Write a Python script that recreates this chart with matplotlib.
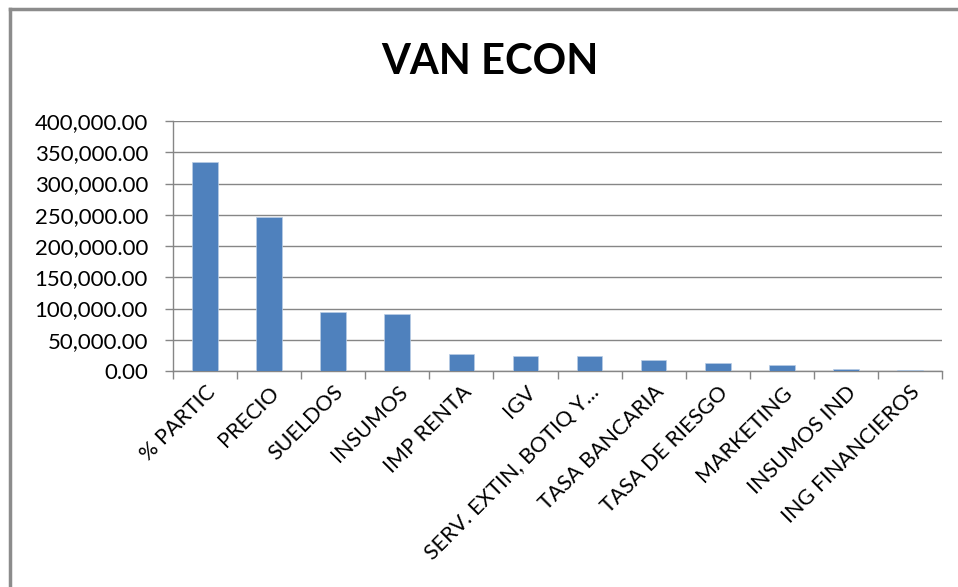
import matplotlib.pyplot as plt
from matplotlib.ticker import FuncFormatter, MultipleLocator
from matplotlib.lines import Line2D

categorias = ["% PARTIC", "PRECIO", "SUELDOS", "INSUMOS", "IMP RENTA", "IGV",
              "SERV. EXTIN, BOTIQ Y...", "TASA BANCARIA", "TASA DE RIESGO",
              "MARKETING", "INSUMOS IND", "ING FINANCIEROS"]
valores = [335000, 247000, 94600, 90800, 26700, 24600,
           24700, 17900, 12100, 10000, 3700, 2400]

plt.rcParams['font.family'] = ['Lato', 'DejaVu Sans']

fig = plt.figure(figsize=(9.58, 5.87), dpi=100)
ax = fig.add_axes([173 / 958, 1 - 371 / 587, 769 / 958, 250 / 587])

gris = '#868686'
x = range(len(categorias))
ax.bar(x, valores, width=0.4, color='#4F81BD', edgecolor='#B9CDE5', linewidth=0.5, zorder=3)

ax.set_xlim(-0.5, len(categorias) - 0.5)
ax.set_ylim(0, 400000)
ax.yaxis.set_major_locator(MultipleLocator(50000))
ax.yaxis.set_major_formatter(FuncFormatter(lambda v, p: f"{v:,.2f}"))
ax.grid(axis='y', color=gris, linewidth=1.0, zorder=0)

# tick marks between categories, labels at the category centres
ax.set_xticks([i - 0.5 for i in range(len(categorias) + 1)])
ax.set_xticklabels([])
ax.set_xticks(list(x), minor=True)
ax.set_xticklabels(categorias, minor=True, rotation=45, ha='right',
                   rotation_mode='anchor', fontsize=15.5, color='black')
ax.tick_params(axis='x', which='minor', length=0, pad=8)
ax.tick_params(axis='x', which='major', length=6, color=gris, width=1)
ax.tick_params(axis='y', length=6, color=gris, width=1, labelsize=16, pad=12)

for s in ['top', 'right']:
    ax.spines[s].set_visible(False)
for s in ['left', 'bottom']:
    ax.spines[s].set_color(gris)
    ax.spines[s].set_linewidth(1.0)

fig.text(490 / 958, 1 - 62 / 587, "VAN ECON", ha='center', va='center',
         fontsize=30, fontweight='bold')

# chart frame
fig.add_artist(Line2D([10 / 958, 10 / 958], [0, 1 - 9 / 587], color='#8c8c8c', linewidth=2.5,
                      transform=fig.transFigure))
fig.add_artist(Line2D([10 / 958, 1], [1 - 9 / 587, 1 - 9 / 587], color='#8c8c8c', linewidth=2.5,
                      transform=fig.transFigure))

fig.savefig('out.png', dpi=100)
